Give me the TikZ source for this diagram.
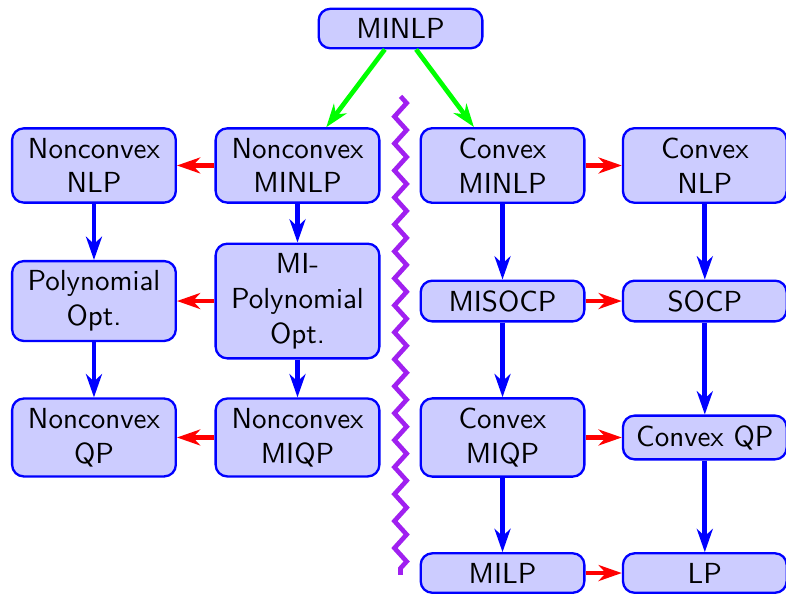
\documentclass[tikz,border=0pt]{standalone}
\usetikzlibrary{arrows.meta}
\usetikzlibrary{decorations.pathmorphing}
\definecolor{zigviolet}{RGB}{160,32,240}
\tikzset{probbox/.style={draw=blue, thick, fill=blue!20, rounded corners,
   text width=1.75cm, align=center, font=\sffamily},
 reduce/.style={ultra thick, -{Stealth[length=8pt,width=5.5pt,inset=2.5pt]}},
 relax/.style={reduce, red},
 special/.style={reduce, blue},
 split/.style={reduce, green},
 }

\begin{document}
\begin{tikzpicture}
        \useasboundingbox (0,0) rectangle (9.527,7.188);
        \node[probbox] (minlp) at (4.855,6.842) {MINLP};

        % nonconvex side
        \node[probbox] (ncnlp) at (1.139,5.182) {Nonconvex NLP};
        \node[probbox] (ncminlp) at (3.606,5.182) {Nonconvex MINLP};
        \node[probbox] (poly) at (1.139,3.539) {Polynomial Opt.};
        \node[probbox] (mipoly) at (3.606,3.539) {MI-Polynomial Opt.};
        \node[probbox] (ncqp) at (1.139,1.885) {Nonconvex QP};
        \node[probbox] (ncmiqp) at (3.606,1.885) {Nonconvex MIQP};

        % convex side
        \node[probbox] (cminlp) at (6.091,5.182) {Convex MINLP};
        \node[probbox] (cnlp) at (8.543,5.182) {Convex NLP};
        \node[probbox] (misocp) at (6.091,3.539) {MISOCP};
        \node[probbox] (socp) at (8.543,3.539) {SOCP};
        \node[probbox] (cmiqp) at (6.091,1.885) {Convex MIQP};
        \node[probbox] (cqp) at (8.543,1.885) {Convex QP};
        \node[probbox] (milp) at (6.091,0.242) {MILP};
        \node[probbox] (lp) at (8.543,0.242) {LP};

        \draw[ultra thick, zigviolet, decorate,
            decoration={zigzag, segment length=9.3pt, amplitude=2.1pt}]
            (4.855,6.02) -- (4.855,0.22);

        \draw[split] (minlp) -- (ncminlp);
        \draw[split] (minlp) -- (cminlp);
        \foreach \a/\b in {ncminlp/ncnlp, mipoly/poly, ncmiqp/ncqp,
            cminlp/cnlp, misocp/socp, cmiqp/cqp, milp/lp} {
            \draw[relax] (\a) -- (\b);
        }
        \foreach \a/\b in {ncnlp/poly, poly/ncqp, ncminlp/mipoly, mipoly/ncmiqp,
            cminlp/misocp, misocp/cmiqp, cmiqp/milp,
            cnlp/socp, socp/cqp, cqp/lp} {
            \draw[special] (\a) -- (\b);
        }
    \end{tikzpicture}
\end{document}
